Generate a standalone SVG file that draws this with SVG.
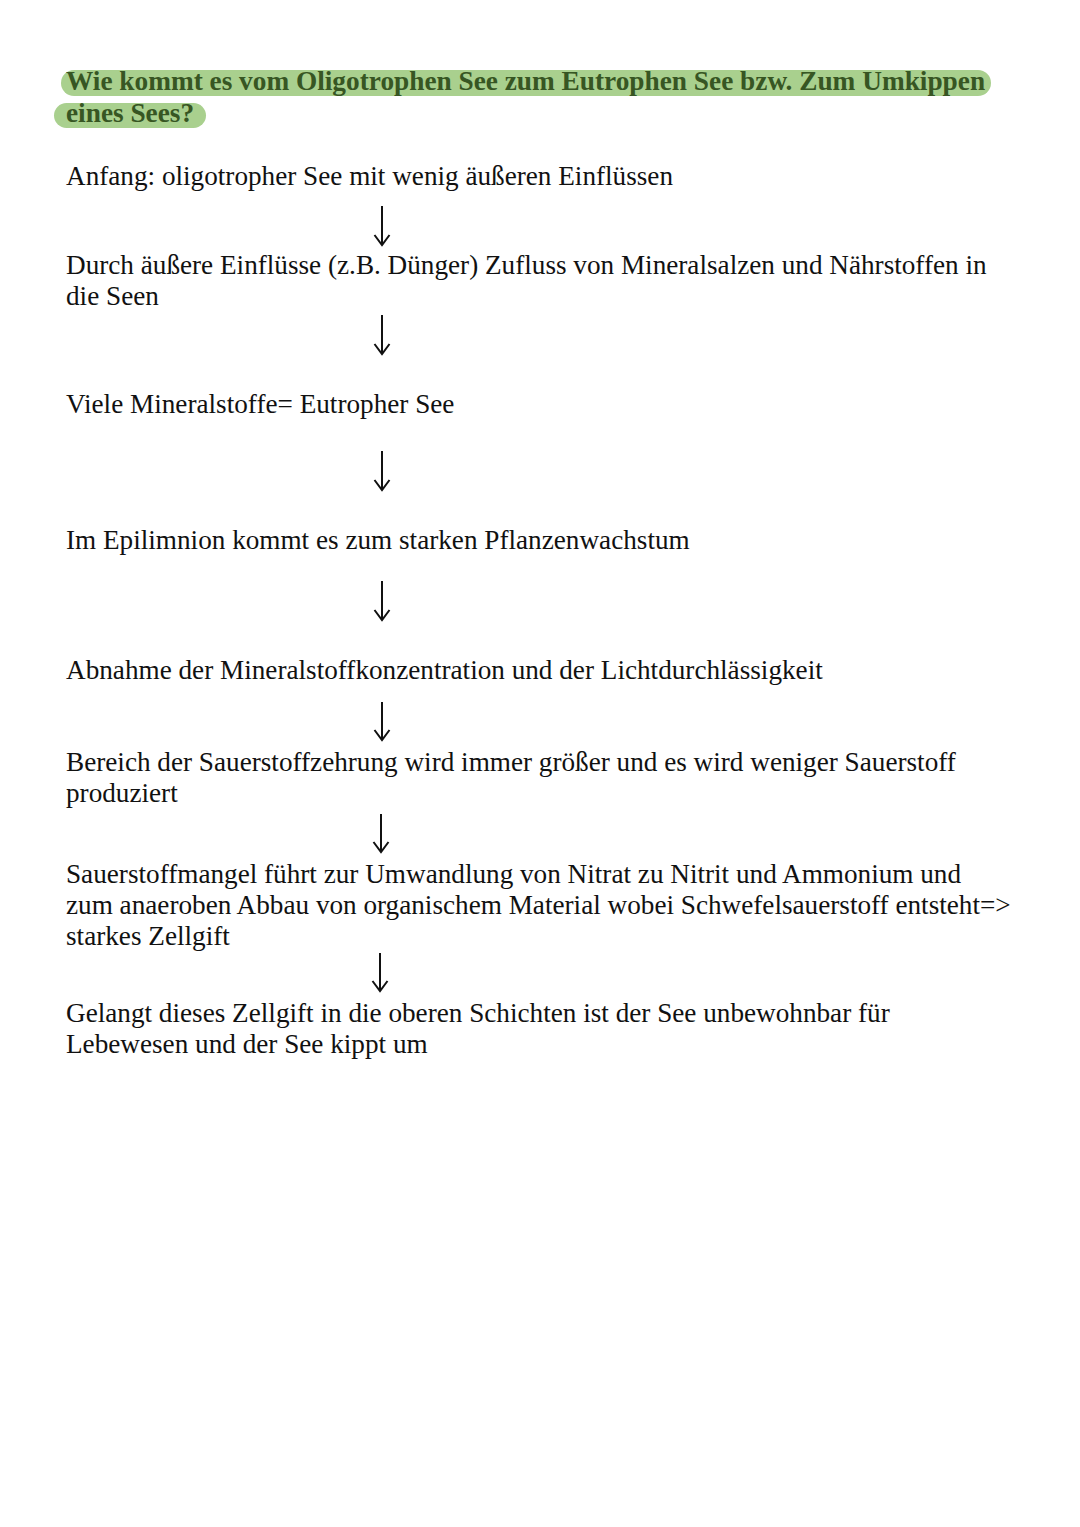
<svg xmlns="http://www.w3.org/2000/svg" width="1080" height="1527" viewBox="0 0 1080 1527">
<style>
.t{font-family:"Liberation Serif","Times New Roman",serif;font-size:27.2px;fill:#111}
.h{font-family:"Liberation Serif","Times New Roman",serif;font-size:27.3px;font-weight:bold;fill:#375623}
.hl{fill:#a9d08e}
.c{stroke:#111;stroke-width:2;fill:none}
</style>
<defs>
<marker id="ah" markerWidth="18" markerHeight="18" refX="13" refY="9" orient="auto" markerUnits="userSpaceOnUse" viewBox="0 0 18 18">
<path d="M3,1.5 L13,9 L3,16.5" fill="none" stroke="#111" stroke-width="2"/>
</marker>
</defs>
<rect width="1080" height="1527" fill="#fff"/>
<g id="title">
<rect class="hl" x="61" y="70" width="930" height="26" rx="13"/>
<rect class="hl" x="54" y="103" width="152" height="25" rx="12.5"/>
<text class="h" x="66" y="90">Wie kommt es vom Oligotrophen See zum Eutrophen See bzw. Zum Umkippen</text>
<text class="h" x="66" y="122">eines Sees?</text>
</g>
<g id="n1"><text class="t" x="66" y="185">Anfang: oligotropher See mit wenig äußeren Einflüssen</text></g>
<g id="n2"><text class="t" x="66" y="274">Durch äußere Einflüsse (z.B. Dünger) Zufluss von Mineralsalzen und Nährstoffen in</text>
<text class="t" x="66" y="305">die Seen</text></g>
<g id="n3"><text class="t" x="66" y="413">Viele Mineralstoffe= Eutropher See</text></g>
<g id="n4"><text class="t" x="66" y="549">Im Epilimnion kommt es zum starken Pflanzenwachstum</text></g>
<g id="n5"><text class="t" x="66" y="679">Abnahme der Mineralstoffkonzentration und der Lichtdurchlässigkeit</text></g>
<g id="n6"><text class="t" x="66" y="771">Bereich der Sauerstoffzehrung wird immer größer und es wird weniger Sauerstoff</text>
<text class="t" x="66" y="802">produziert</text></g>
<g id="n7"><text class="t" x="66" y="883">Sauerstoffmangel führt zur Umwandlung von Nitrat zu Nitrit und Ammonium und</text>
<text class="t" x="66" y="914">zum anaeroben Abbau von organischem Material wobei Schwefelsauerstoff entsteht=&gt;</text>
<text class="t" x="66" y="945">starkes Zellgift</text></g>
<g id="n8"><text class="t" x="66" y="1022">Gelangt dieses Zellgift in die oberen Schichten ist der See unbewohnbar für</text>
<text class="t" x="66" y="1053">Lebewesen und der See kippt um</text></g>
<g id="connectors">
<path class="c" d="M382,206 V245" marker-end="url(#ah)"/>
<path class="c" d="M382,315 V354" marker-end="url(#ah)"/>
<path class="c" d="M382,451 V490" marker-end="url(#ah)"/>
<path class="c" d="M382,581 V620" marker-end="url(#ah)"/>
<path class="c" d="M382,702 V740" marker-end="url(#ah)"/>
<path class="c" d="M381,814 V852" marker-end="url(#ah)"/>
<path class="c" d="M380,953 V991" marker-end="url(#ah)"/>
</g>
</svg>
